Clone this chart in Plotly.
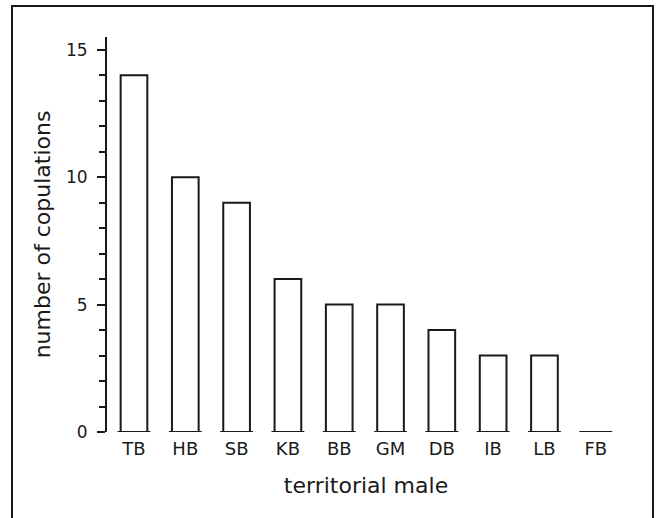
import plotly.graph_objects as go

# data
males = ["TB", "HB", "SB", "KB", "BB", "GM", "DB", "IB", "LB", "FB"]
copulations = [14, 10, 9, 6, 5, 5, 4, 3, 3, 0]

W, H = 657, 518
L, R, T, B = 107, 32, 37, 86
pw, ph = W - L - R, H - T - B

def px2paper(x, y):
    return (x - L) / pw, (H - B - y) / ph

font = "DejaVu Sans"
ink = "#1a1a1a"

fig = go.Figure()
fig.add_trace(go.Bar(
    x=list(range(len(males))), y=copulations, width=0.52,
    marker=dict(color="white", line=dict(color=ink, width=2)),
    showlegend=False,
))

# baseline strokes under each bar (also the zero bar for FB)
bx, by = [], []
for i in range(len(males)):
    bx += [i - 0.32, i + 0.32, None]
    by += [0, 0, None]
fig.add_trace(go.Scatter(x=bx, y=by, mode="lines", line=dict(color=ink, width=2),
                         cliponaxis=False, showlegend=False, hoverinfo="skip"))

x0, y0 = px2paper(12, 6)
x1, y1 = px2paper(653, 530)
fig.add_shape(type="rect", xref="paper", yref="paper", x0=x0, y0=y1, x1=x1, y1=y0,
              line=dict(color=ink, width=2))

fig.update_layout(
    width=W, height=H,
    margin=dict(l=L, r=R, t=T, b=B),
    plot_bgcolor="white", paper_bgcolor="white",
    font=dict(family=font, color=ink),
    xaxis=dict(
        range=[-0.526, 9.57], tickmode="array",
        tickvals=list(range(len(males))), ticktext=males,
        showline=False, showgrid=False, zeroline=False, ticks="",
        tickfont=dict(size=18), ticklabelstandoff=4,
        title=dict(text="territorial male", font=dict(size=22), standoff=19),
    ),
    yaxis=dict(
        range=[0, 15.5], tickvals=[0, 5, 10, 15],
        showline=True, linecolor=ink, linewidth=2,
        ticks="outside", ticklen=8, tickwidth=2, tickcolor=ink,
        minor=dict(dtick=1, ticks="outside", ticklen=6, tickwidth=2, tickcolor=ink),
        showgrid=False, zeroline=False,
        tickfont=dict(size=17), ticklabelstandoff=6,
        title=dict(text="number of copulations", font=dict(size=22), standoff=9),
    ),
)

fig.write_html("out.html", config={"displayModeBar": False},
               post_script="document.body.style.margin='0';")
